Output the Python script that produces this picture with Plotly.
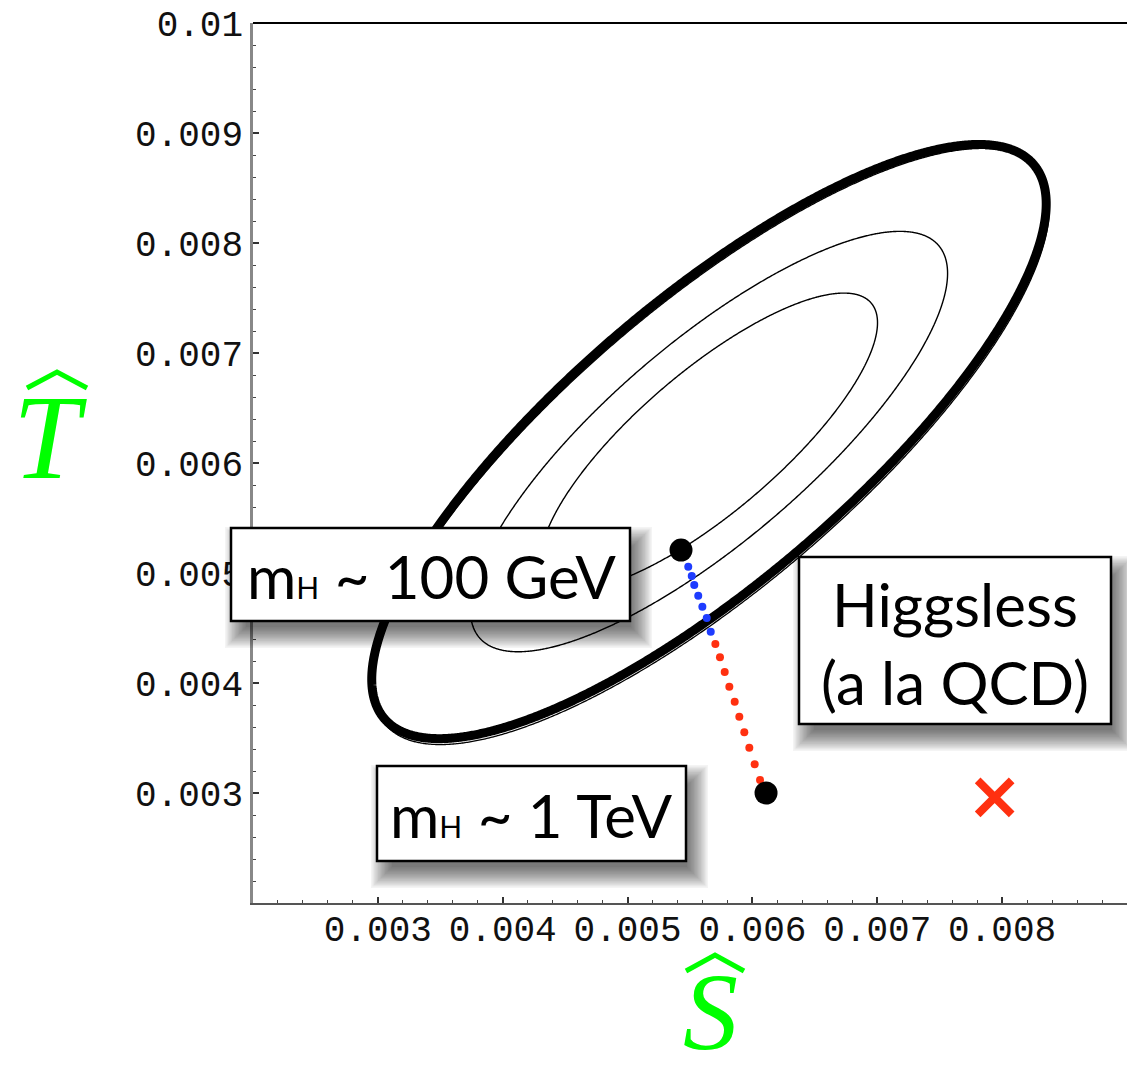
import numpy as np
import plotly.graph_objects as go

# ---- fit of the oblique parameters (S-hat, T-hat) ----
fit_center = (0.005652, 0.006195)
fit_sigma_S = 0.00089
fit_sigma_T = 0.00089
fit_rho = 0.80
# delta-chi^2 levels: 68%, 90%, 99% (2 d.o.f.)
contour_levels = [2.30, 4.61, 9.21]
contour_widths = [1.4, 1.4, 9]
# second 99% contour from the alternative fit
alt_center = (0.005668, 0.006150)
alt_level = 9.27

# ---- Higgs-mass trajectory (S-hat, T-hat) ----
traj_light_S = [0.005486, 0.005514, 0.005534, 0.005566, 0.005599, 0.005634, 0.005666]
traj_light_T = [0.005057, 0.004973, 0.004891, 0.004794, 0.004694, 0.004591, 0.004466]
traj_heavy_S = [0.005703, 0.005740, 0.005778, 0.005815, 0.005858, 0.005895,
                0.005935, 0.005975, 0.006018, 0.006061]
traj_heavy_T = [0.004355, 0.004234, 0.004100, 0.003966, 0.003830, 0.003694,
                0.003552, 0.003412, 0.003261, 0.003118]

# end points: m_H ~ 100 GeV and m_H ~ 1 TeV
higgs_S = [0.005428, 0.006109]
higgs_T = [0.005209, 0.003000]

# Higgsless (QCD-like) estimate
higgsless_S = [0.00794]
higgsless_T = [0.00296]

# ---- axes ----
x_range = [0.002, 0.009]
y_range = [0.002, 0.0100001]
x_ticks = [0.003, 0.004, 0.005, 0.006, 0.007, 0.008]
x_ticktext = ["0.003", "0.004", "0.005", "0.006", "0.007", "0.008"]
y_ticks = [0.003, 0.004, 0.005, 0.006, 0.007, 0.008, 0.009, 0.010]
y_ticktext = ["0.003", "0.004", "0.005", "0.006", "0.007", "0.008", "0.009", "0.01"]

GREEN = "#00ff00"
BLUE = "#1e3cff"
RED = "#ff3010"

W, H = 1127, 1078
ML, MR, MT, MB = 253, 0, 23, 175
PW, PH = W - ML - MR, H - MT - MB


def px(x):
    return (x - ML) / PW


def py(y):
    return (MT + PH - y) / PH


def ellipse(center, k, n=1200):
    t = np.linspace(0, 2 * np.pi, n)
    r = np.sqrt(k)
    s = center[0] + r * fit_sigma_S * np.cos(t)
    tt = center[1] + r * fit_sigma_T * (fit_rho * np.cos(t) + np.sqrt(1 - fit_rho ** 2) * np.sin(t))
    return s, tt


fig = go.Figure()

s, t = ellipse(alt_center, alt_level)
fig.add_trace(go.Scatter(x=s, y=t, mode="lines",
                         line=dict(color="black", width=1.3, simplify=False),
                         hoverinfo="skip"))
for k, w in zip(contour_levels, contour_widths):
    s, t = ellipse(fit_center, k)
    fig.add_trace(go.Scatter(x=s, y=t, mode="lines",
                             line=dict(color="black", width=w, simplify=False),
                             hoverinfo="skip"))

fig.add_trace(go.Scatter(x=traj_light_S, y=traj_light_T, mode="markers",
                         marker=dict(color=BLUE, size=8)))
fig.add_trace(go.Scatter(x=traj_heavy_S, y=traj_heavy_T, mode="markers",
                         marker=dict(color=RED, size=8)))
fig.add_trace(go.Scatter(x=higgs_S, y=higgs_T, mode="markers",
                         marker=dict(color="black", size=23)))
fig.add_trace(go.Scatter(x=higgsless_S, y=higgsless_T, mode="markers",
                         marker=dict(symbol="x-thin", size=34, color=RED,
                                     line=dict(color=RED, width=8))))

# ---- label boxes with soft drop shadows (pixel layout) ----
boxes = [
    (231, 528, 630, 621),
    (377, 766, 686, 861),
    (799, 557, 1111, 724),
]
shapes = []
for (x0, y0, x1, y1) in boxes:
    dx, dy = 8, 13
    n = 16
    for i in range(n):
        g = -7 + i * 1.4
        shapes.append(dict(type="rect", xref="paper", yref="paper", layer="above",
                           x0=px(x0 + dx - g), x1=px(x1 + dx + g),
                           y0=py(y0 + dy - g), y1=py(y1 + dy + g),
                           line=dict(width=0), fillcolor="rgba(0,0,0,0.045)"))
    shapes.append(dict(type="rect", xref="paper", yref="paper", layer="above",
                       x0=px(x0), x1=px(x1), y0=py(y0), y1=py(y1),
                       line=dict(color="black", width=2.5), fillcolor="white"))

# hats over the axis symbols
for (a, b, c) in [((27, 388), (57, 372), (87, 388)), ((686, 971), (715, 955), (744, 971))]:
    path = "M {} {} L {} {} L {} {}".format(px(a[0]), py(a[1]), px(b[0]), py(b[1]),
                                            px(c[0]), py(c[1]))
    shapes.append(dict(type="path", xref="paper", yref="paper", path=path,
                       line=dict(color=GREEN, width=5)))

# top frame line
shapes.append(dict(type="line", xref="paper", yref="paper", x0=0, x1=1, y0=1, y1=1,
                   line=dict(color="black", width=2)))

label_font = dict(family="Lato", size=60, color="black")
sub = '<span style="font-size:30px">H</span>'
annotations = [
    dict(text="m" + sub + " ~ 100 GeV", x=px(431), y=py(576), xref="paper", yref="paper",
         showarrow=False, xanchor="center", yanchor="middle", font=label_font),
    dict(text="m" + sub + " ~ 1 TeV", x=px(531), y=py(815), xref="paper", yref="paper",
         showarrow=False, xanchor="center", yanchor="middle", font=label_font),
    dict(text="Higgsless<br>(a la QCD)", x=px(955), y=py(643), xref="paper", yref="paper",
         showarrow=False, xanchor="center", yanchor="middle", align="center", font=label_font),
    dict(text="<i>T</i>", x=px(50), y=py(437), xref="paper", yref="paper",
         showarrow=False, xanchor="center", yanchor="middle",
         font=dict(family="Liberation Serif", size=120, color=GREEN)),
    dict(text="<i>S</i>", x=px(710), y=py(1012), xref="paper", yref="paper",
         showarrow=False, xanchor="center", yanchor="middle",
         font=dict(family="Liberation Serif", size=110, color=GREEN)),
]

tick_font = dict(family="Liberation Mono", size=36, color="#111")
minor_x = dict(ticks="inside", ticklen=3, tickmode="linear", tick0=0.002, dtick=0.0002,
               tickcolor="#444", tickwidth=1.2, showgrid=False)
minor_y = dict(ticks="inside", ticklen=3, tickmode="linear", tick0=0.002, dtick=0.0002,
               tickcolor="#444", tickwidth=1.2, showgrid=False)

fig.update_layout(
    width=W, height=H,
    margin=dict(l=ML, r=MR, t=MT, b=MB),
    paper_bgcolor="white", plot_bgcolor="white",
    showlegend=False,
    xaxis=dict(range=x_range, tickmode="array", tickvals=x_ticks, ticktext=x_ticktext,
               ticks="inside", ticklen=6, tickwidth=1.5, tickcolor="#333",
               showline=True, linecolor="#555", linewidth=2, ticklabelstandoff=-7,
               showgrid=False, zeroline=False, tickfont=tick_font, minor=minor_x),
    xaxis2=dict(range=x_range, overlaying="x", side="top", anchor="y",
                tickmode="array", tickvals=x_ticks, showticklabels=False,
                ticks="inside", ticklen=6, tickwidth=1.5, tickcolor="#333",
                showline=False, showgrid=False, zeroline=False, minor=minor_x),
    yaxis=dict(range=y_range, tickmode="array", tickvals=y_ticks, ticktext=y_ticktext,
               ticks="inside", ticklen=6, tickwidth=1.5, tickcolor="#333",
               showline=True, linecolor="#888", linewidth=2.5,
               showgrid=False, zeroline=False, tickfont=tick_font, minor=minor_y),
    shapes=shapes,
    annotations=annotations,
)

fig.write_html("out.html")
